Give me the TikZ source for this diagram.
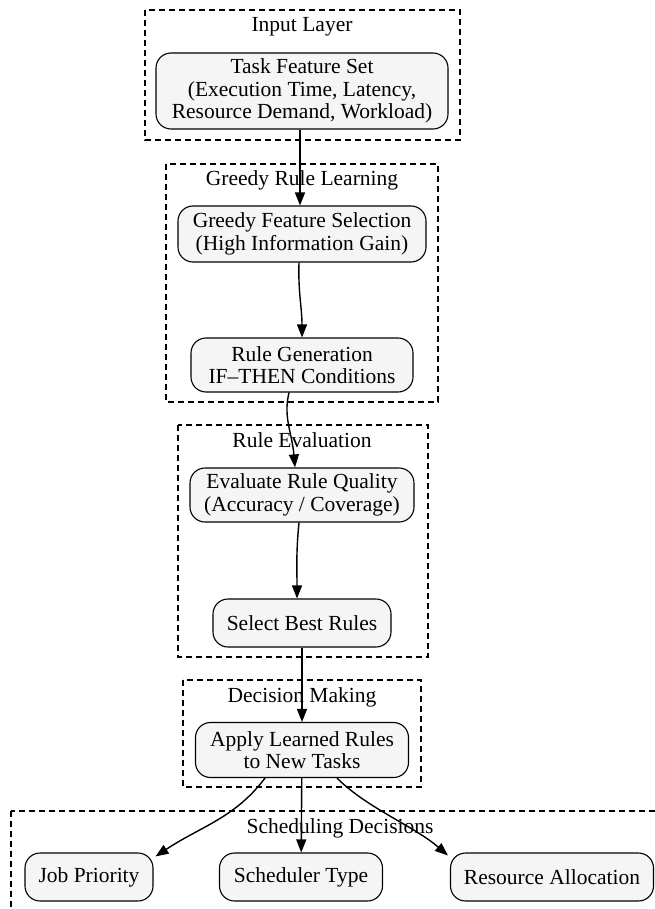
\documentclass[tikz,border=0pt]{standalone}
\usepackage{fontspec}
\setmainfont{Liberation Serif}
\usepackage{tikz}
\usetikzlibrary{arrows.meta,calc}

\tikzset{
  rulebox/.style={draw, line width=1.1pt, rounded corners=15pt, fill=boxfill,
    align=center, font=\fontsize{21.5}{22.5}\selectfont},
  clusterbox/.style={draw, dashed, dash pattern=on 6pt off 4pt, line width=1.1pt},
  clusterlabel/.style={anchor=base, font=\fontsize{21.5}{22.5}\selectfont},
  flow/.style={line width=1.4pt, -{Triangle[length=13pt,width=10pt]}}
}
\definecolor{boxfill}{HTML}{F5F5F5}

\begin{document}
\begin{tikzpicture}[x=1pt,y=-1pt]
    \clip (0,0) rectangle (655,909);
    \fill[white] (0,0) rectangle (655,909);

    % draw clusters
    \draw[clusterbox] (145,10) rectangle (460,140);
    \draw[clusterbox] (166,164) rectangle (438,402);
    \draw[clusterbox] (178,425) rectangle (428,657);
    \draw[clusterbox] (183,680) rectangle (421,787);
    \draw[clusterbox] (11,811) rectangle (669,925);

    % cluster titles
    \node[clusterlabel] (inputlabel) at (302,32) {Input Layer};
    \node[clusterlabel] (greedylabel) at (302,186) {Greedy Rule Learning};
    \node[clusterlabel] (evallabel) at (302,447) {Rule Evaluation};
    \node[clusterlabel] (decisionlabel) at (302,702) {Decision Making};
    \node[clusterlabel] (schedlabel) at (340,833) {Scheduling Decisions};

    % draw nodes
    \node[rulebox, minimum width=292, minimum height=76] (task) at (302,91)
      {Task Feature Set\\(Execution Time, Latency,\\Resource Demand, Workload)};
    \node[rulebox, minimum width=248, minimum height=56] (gfs) at (302,234)
      {Greedy Feature Selection\\(High Information Gain)};
    \node[rulebox, minimum width=222, minimum height=54] (rulegen) at (302,365)
      {Rule Generation\\IF--THEN Conditions};
    \node[rulebox, minimum width=224, minimum height=54] (evaluate) at (302,495)
      {Evaluate Rule Quality\\(Accuracy / Coverage)};
    \node[rulebox, minimum width=178, minimum height=48] (select) at (302,623)
      {Select Best Rules};
    \node[rulebox, minimum width=213, minimum height=55] (apply) at (302,750)
      {Apply Learned Rules\\to New Tasks};
    \node[rulebox, minimum width=128, minimum height=48] (jobprio) at (89,877)
      {Job Priority};
    \node[rulebox, minimum width=163, minimum height=48] (sched) at (301,877)
      {Scheduler Type};
    \node[rulebox, minimum width=203, minimum height=48] (resource) at (552,877)
      {Resource Allocation};

    % draw arrows
    \draw[flow] ($(task.south)+(-2,0)$) -- ($(gfs.north)+(-2,0)$);
    \draw[flow] ($(gfs.south)+(-3,0)$) .. controls +(-1,30) and +(0,-30) .. (rulegen.north);
    \draw[flow] ($(rulegen.south)+(-13,0)$) .. controls +(-6,25) and +(-3,-35) .. ($(evaluate.north)+(-7,0)$);
    \draw[flow] ($(evaluate.south)+(-3,0)$) .. controls +(-3,30) and +(0,-30) .. ($(select.north)+(-5,0)$);
    \draw[flow] (select) -- (apply);
    \draw[flow] ($(apply.south)+(-37,0)$) .. controls +(-30,40) and +(45,-30) .. ($(jobprio.north east)+(2,4)$);
    \draw[flow] (apply) -- (sched);
    \draw[flow] ($(apply.south)+(35,0)$) .. controls +(30,30) and +(-35,-30) .. ($(resource.north west)+(-2,3)$);
\end{tikzpicture}
\end{document}
